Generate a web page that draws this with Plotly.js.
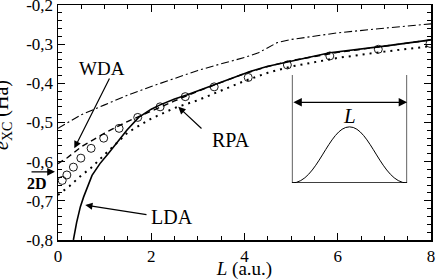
<!DOCTYPE html>
<html><head><meta charset="utf-8">
<script src="https://cdn.plot.ly/plotly-3.0.1.min.js"></script>
<style>html,body{margin:0;padding:0;background:#fff}</style>
</head><body><div id="chart" style="width:436px;height:280px"></div>
<script>
// Data
const dashdotX = [0,0.5,1,1.5,2,2.5,3,3.5,4,4.3,4.5,4.7,5,6,7,8];
const dashdotY = [-0.515,-0.48,-0.455,-0.43,-0.408,-0.387,-0.367,-0.35,-0.334,-0.322,-0.308,-0.296,-0.288,-0.271,-0.259,-0.248];
const ldaX = [0.33,0.4,0.48,0.55,0.73,0.9,1.08,1.3,1.48,1.73,2.0,2.19,2.5,2.76,3.33,3.8,4.12,4.48,5.0,5.83,7,8];
const ldaY = [-0.8,-0.755,-0.715,-0.69,-0.635,-0.605,-0.579,-0.545,-0.519,-0.487,-0.466,-0.455,-0.44,-0.43,-0.404,-0.383,-0.37,-0.357,-0.343,-0.322,-0.305,-0.289];
const wdaX = [0,0.2,0.5,1,1.5,2,2.5,3,3.5,4,4.5,5,6,7,8];
const wdaY = [-0.605,-0.59,-0.562,-0.527,-0.497,-0.47,-0.445,-0.42,-0.397,-0.375,-0.357,-0.342,-0.321,-0.305,-0.289];
const rpaX = [0,0.25,0.5,0.7,1,1.5,2,2.5,3,3.5,4,4.5,5,6,7,8];
const rpaY = [-0.685,-0.662,-0.635,-0.617,-0.582,-0.525,-0.49,-0.463,-0.443,-0.418,-0.394,-0.373,-0.357,-0.335,-0.319,-0.305];
const circX = [0.09,0.19,0.33,0.49,0.71,0.98,1.31,1.71,2.19,2.73,3.35,4.08,4.92,5.83,6.87,7.98];
const circY = [-0.648,-0.634,-0.614,-0.591,-0.566,-0.540,-0.515,-0.487,-0.460,-0.434,-0.409,-0.385,-0.353,-0.330,-0.313,-0.298];
const xTickVals = [0,2,4,6,8];
const xTickText = ["0","2","4","6","8"];
const yTickVals = [-0.8,-0.7,-0.6,-0.5,-0.4,-0.3,-0.2];
const yTickText = ["-0,8","-0,7","-0,6","-0,5","-0,4","-0,3","-0,2"];

const FONT = "Liberation Serif";
const traces = [
  {x: dashdotX, y: dashdotY, mode:'lines', line:{color:'#000', width:1.1, dash:'8px,3px,2px,3px'}, hoverinfo:'skip'},
  {x: wdaX, y: wdaY, mode:'lines', line:{color:'#000', width:1.4, dash:'6px,4px'}, hoverinfo:'skip'},
  {x: rpaX, y: rpaY, mode:'lines', line:{color:'#000', width:2, dash:'2px,5px'}, hoverinfo:'skip'},
  {x: ldaX, y: ldaY, mode:'lines', line:{color:'#000', width:1.6}, hoverinfo:'skip'},
  {x: circX, y: circY, mode:'markers', marker:{symbol:'circle-open', size:8, color:'#000', line:{width:0.9}}, hoverinfo:'skip'}
];

const ax = {
  showgrid:false, zeroline:false, showline:true, linecolor:'#000', linewidth:1.5,
  ticks:'inside', ticklen:7, tickwidth:1.2, tickcolor:'#000', mirror:'allticks',
  ticklabeloverflow:'allow',
  tickfont:{family:FONT, size:17, color:'#000'}
};
const layout = {
  width:436, height:280,
  margin:{l:58, r:5, t:5, b:40},
  paper_bgcolor:'#fff', plot_bgcolor:'#fff',
  showlegend:false,
  font:{family:FONT, color:'#000'},
  xaxis: Object.assign({}, ax, {range:[0,8.0001], tickvals:xTickVals, ticktext:xTickText,
    minor:{dtick:0.5, ticklen:4, tickwidth:1, tickcolor:'#000', ticks:'inside'},
    title:{text:'<i>L</i> (a.u.)', font:{family:FONT, size:19, color:'#000'}, standoff:6}}),
  yaxis: Object.assign({}, ax, {range:[-0.8001,-0.1999], tickvals:yTickVals, ticktext:yTickText,
    minor:{dtick:0.02, ticklen:4, tickwidth:1, tickcolor:'#000', ticks:'inside'}}),
  xaxis2:{domain:[0.627,0.936], range:[0,1], visible:false, anchor:'y2', fixedrange:true},
  yaxis2:{domain:[0.2426,0.702], range:[0,1], visible:false, anchor:'x2', fixedrange:true},
  shapes:[
    {type:'line', xref:'x2', yref:'y2', x0:0, x1:0, y0:0, y1:1, line:{color:'#000', width:1.3}},
    {type:'line', xref:'x2', yref:'y2', x0:1, x1:1, y0:0, y1:1, line:{color:'#000', width:1.3}},
    {type:'line', xref:'x2', yref:'y2', x0:0, x1:1, y0:0, y1:0, line:{color:'#000', width:1.3}},
    {type:'path', xref:'x2', yref:'y2', path:'M 0,0 C 0.22,0 0.32,0.52 0.5,0.52 C 0.68,0.52 0.78,0 1,0', line:{color:'#000', width:1}}
  ],
  annotations:[
    {xref:'x2', yref:'y2', axref:'x2', ayref:'y2', x:1, y:0.747, ax:0, ay:0.747, showarrow:true, arrowside:'end+start', arrowhead:2, arrowsize:1.3, arrowwidth:1.3, arrowcolor:'#000', text:''},
    {xref:'x2', yref:'y2', x:0.5, y:0.62, text:'<i>L</i>', showarrow:false, font:{family:FONT, size:21, color:'#000'}},
    {xref:'x', yref:'y', x:0.95, y:-0.363, text:'WDA', showarrow:false, font:{family:FONT, size:19, color:'#000'}},
    {xref:'x', yref:'y', axref:'x', ayref:'y', x:0.35, y:-0.566, ax:1.12, ay:-0.384, text:'', showarrow:true, arrowhead:2, arrowsize:1.2, arrowwidth:1.2, arrowcolor:'#000'},
    {xref:'x', yref:'y', x:3.71, y:-0.545, text:'RPA', showarrow:false, font:{family:FONT, size:20, color:'#000'}},
    {xref:'x', yref:'y', axref:'x', ayref:'y', x:2.58, y:-0.46, ax:3.11, ay:-0.519, text:'', showarrow:true, arrowhead:2, arrowsize:1.2, arrowwidth:1.2, arrowcolor:'#000'},
    {xref:'x', yref:'y', x:2.45, y:-0.741, text:'LDA', showarrow:false, font:{family:FONT, size:20, color:'#000'}},
    {xref:'x', yref:'y', axref:'x', ayref:'y', x:0.585, y:-0.711, ax:1.93, ay:-0.736, text:'', showarrow:true, arrowhead:2, arrowsize:1.2, arrowwidth:1.2, arrowcolor:'#000'},
    {xref:'paper', yref:'paper', axref:'pixel', ayref:'pixel', x:-0.008, y:0.29, ax:-25, ay:0, text:'', showarrow:true, arrowhead:2, arrowsize:1.2, arrowwidth:1.3, arrowcolor:'#000'},
    {xref:'paper', yref:'paper', x:-0.056, y:0.24, xanchor:'center', yanchor:'middle', text:'<b>2D</b>', showarrow:false, font:{family:FONT, size:16, color:'#000'}},
    {xref:'paper', yref:'paper', x:0, y:0.532, xanchor:'center', yanchor:'middle', xshift:-55, text:'<i>e</i><sub>XC</sub> (Ha)', textangle:-90, showarrow:false, font:{family:FONT, size:20, color:'#000'}}
  ]
};
Plotly.newPlot('chart', traces, layout, {staticPlot:true, displayModeBar:false});
</script>
</body></html>
